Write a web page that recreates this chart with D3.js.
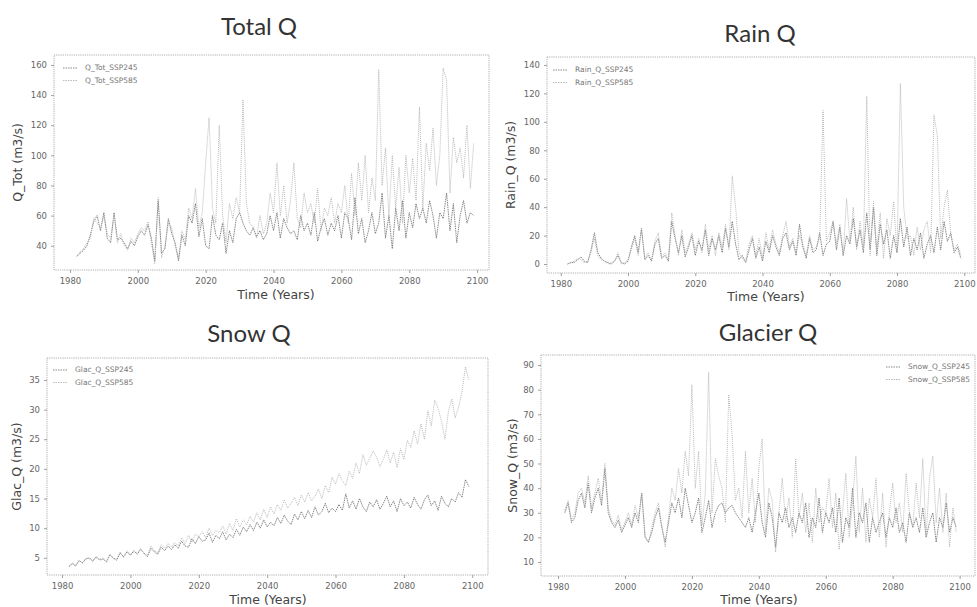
<!DOCTYPE html>
<html><head><meta charset="utf-8">
<script src="https://cdn.jsdelivr.net/npm/d3@7"></script>
<style>
body{margin:0;background:#fff;}
svg{display:block;}
.tick text{font-family:"DejaVu Sans",sans-serif;}
</style></head>
<body><svg id="c" width="977" height="607"></svg>
<script>
const years = [1982,1983,1984,1985,1986,1987,1988,1989,1990,1991,1992,1993,1994,1995,1996,1997,1998,1999,2000,2001,2002,2003,2004,2005,2006,2007,2008,2009,2010,2011,2012,2013,2014,2015,2016,2017,2018,2019,2020,2021,2022,2023,2024,2025,2026,2027,2028,2029,2030,2031,2032,2033,2034,2035,2036,2037,2038,2039,2040,2041,2042,2043,2044,2045,2046,2047,2048,2049,2050,2051,2052,2053,2054,2055,2056,2057,2058,2059,2060,2061,2062,2063,2064,2065,2066,2067,2068,2069,2070,2071,2072,2073,2074,2075,2076,2077,2078,2079,2080,2081,2082,2083,2084,2085,2086,2087,2088,2089,2090,2091,2092,2093,2094,2095,2096,2097,2098,2099];

const totQ245 = [33,35,37,40,47,56,60,50,62,45, 42,62,44,45,42,38,43,40,46,50, 47,54,45,30,70,35,38,58,48,42, 30,47,40,60,55,68,46,58,40,38, 60,47,44,55,35,50,42,58,62,55, 50,47,52,46,50,44,48,60,50,62, 45,58,52,48,50,44,60,50,55,47, 62,43,52,58,47,55,50,60,45,62, 58,44,72,48,58,42,50,62,48,55, 75,45,60,38,65,50,70,45,62,52, 68,58,65,55,70,60,45,62,58,75, 50,68,42,60,70,55,62,60];
const totQ585 = [33,36,38,42,45,58,55,52,60,48, 45,60,42,48,40,37,45,42,48,52, 50,56,42,28,72,32,40,55,52,40, 32,50,44,65,58,78,52,62,95,125, 65,55,120,60,42,68,58,72,62,137, 68,55,52,45,60,48,55,75,62,95, 60,80,55,70,95,58,52,75,62,68, 55,78,50,65,60,72,55,68,62,80, 55,88,60,95,70,100,62,85,70,157, 80,105,58,100,65,92,55,100,75,98, 70,132,65,108,90,118,80,100,158,150, 75,112,95,105,85,120,78,108];

const rainQ245 = [0,1,1,3,5,2,1,10,22,8, 4,2,1,0,2,6,1,0,2,12, 20,8,25,3,6,2,14,18,4,6, 2,30,18,8,20,5,12,20,6,16, 10,24,6,18,10,20,8,25,12,30, 14,3,6,1,10,18,4,12,2,16, 8,20,12,6,18,22,10,16,6,28, 12,4,18,8,10,22,6,14,16,30, 10,26,6,20,14,32,12,24,8,36, 10,40,6,28,14,24,4,20,8,32, 12,26,6,18,10,22,4,14,20,8, 26,10,30,16,22,8,12,4];
const rainQ585 = [0,1,2,4,3,1,2,8,18,6, 3,2,0,1,2,8,0,1,3,10, 18,6,24,4,8,3,16,22,5,8, 3,36,20,6,24,8,14,22,10,18, 8,28,10,20,6,22,12,28,10,62, 40,8,4,2,14,20,6,18,4,22, 10,24,14,8,20,30,12,18,8,20, 14,6,20,10,12,18,108,16,22,30, 14,28,6,46,16,40,10,30,12,118, 6,44,10,36,4,32,20,44,8,127, 40,18,20,6,26,10,24,30,8,105, 90,18,40,52,20,10,14,6];

const glacQ245 = [3.5,4.0,3.6,4.5,4.2,4.8,5.0,4.4,5.2,4.6, 4.8,4.3,5.5,5.0,4.6,5.8,5.2,6.0,5.4,6.2, 5.6,6.4,5.8,5.2,6.6,6.0,5.6,6.8,6.2,7.0, 6.4,7.2,6.6,7.8,7.0,6.8,8.2,7.4,8.6,7.8, 8.0,9.2,7.6,8.8,8.2,9.4,8.0,9.0,8.4,9.8, 8.8,10.2,9.4,10.6,9.6,11.0,10.0,11.4,10.2,11.0, 10.4,11.8,10.8,12.2,11.2,10.6,12.4,11.4,12.8,11.6, 13.0,11.8,13.6,12.2,12.8,14.2,12.6,13.4,12.8,14.0, 13.0,15.8,13.4,14.6,13.2,15.0,13.6,12.8,14.4,13.6, 14.8,13.2,14.2,15.4,13.6,14.6,12.8,15.0,13.8,14.4, 13.4,15.2,14.0,13.2,14.8,15.6,13.8,14.6,13.0,15.4, 14.2,13.6,15.0,14.4,16.0,15.2,18.2,17.0];
const glacQ585 = [3.6,4.2,3.8,4.6,4.0,5.0,4.8,4.6,5.0,4.8, 5.0,4.4,5.6,4.8,4.8,6.0,5.0,6.2,5.6,6.0, 5.8,6.6,5.6,5.4,7.0,6.2,5.8,7.2,6.6,7.4, 6.8,7.6,7.0,8.4,7.4,8.8,7.6,9.0,8.6,9.4, 8.4,10.0,8.8,9.6,9.2,10.4,9.0,10.8,9.6,11.6, 10.2,11.4,10.6,12.0,11.0,12.6,11.4,13.2,11.8,13.6, 12.4,14.0,13.0,14.8,13.4,14.2,15.2,13.8,15.6,14.4, 16.0,14.6,15.4,16.6,15.0,17.2,16.0,18.6,17.4,19.2, 18.0,17.2,19.6,18.4,21.0,19.2,22.4,20.6,21.8,23.0, 22.0,20.4,21.6,23.2,21.0,22.8,20.2,23.4,21.6,24.8, 23.6,26.4,24.2,27.6,25.0,29.8,27.2,31.6,30.2,28.0, 25.0,29.6,31.8,28.6,30.4,33.0,37.2,35.0];

const snowQ245 = [30,34,26,28,35,38,32,42,30,36, 40,33,48,30,26,24,27,22,25,28, 24,30,26,38,20,18,22,28,32,24, 18,26,34,30,36,28,40,33,26,30, 36,22,28,35,24,30,33,34,30,32, 33,30,28,26,24,28,22,30,38,26, 20,34,28,16,30,26,32,24,28,22, 30,26,34,20,28,24,36,22,30,26, 32,22,36,18,28,24,40,20,30,26, 34,18,28,22,26,30,20,28,24,32, 22,26,18,30,24,28,22,32,20,26, 30,18,28,24,34,22,28,24];
const snowQ585 = [31,35,27,30,38,40,34,45,32,38, 44,35,50,32,27,25,29,23,26,30, 25,33,28,38,21,18,24,30,34,25, 16,28,40,35,48,38,55,45,82,40, 55,25,38,87,30,52,45,40,26,78, 62,35,40,28,55,30,44,26,48,60, 22,40,35,14,30,44,26,36,20,52, 28,38,22,34,18,40,26,32,30,44, 24,38,15,30,46,20,34,53,22,40, 18,36,28,44,20,38,16,30,42,26, 34,22,46,30,24,42,28,52,20,44, 53,26,40,22,38,16,32,22];

const xTicks = [1980,2000,2020,2040,2060,2080,2100];
const totTicks = [40,60,80,100,120,140,160];
const rainTicks = [0,20,40,60,80,100,120,140];
const glacTicks = [5,10,15,20,25,30,35];
const snowTicks = [10,20,30,40,50,60,70,80,90];

const panels = [
  {title:"Total Q", tx:259, ty:35, box:[54,55,489,270], xd:[1975.3,2103.5], yd:[23.9,166.6], yt:totTicks,
   ylab:"Q_Tot (m3/s)", ylx:18, xlx:276, xly:299, s:[totQ245,totQ585], names:["Q_Tot_SSP245","Q_Tot_SSP585"], leg:"left", lx:63, ly:68},
  {title:"Rain Q", tx:760, ty:42, box:[547,57,975,273], xd:[1975.9,2103.2], yd:[-6.3,145.6], yt:rainTicks,
   ylab:"Rain_Q (m3/s)", ylx:511, xlx:766, xly:301, s:[rainQ245,rainQ585], names:["Rain_Q_SSP245","Rain_Q_SSP585"], leg:"left", lx:553, ly:70},
  {title:"Snow Q", tx:249, ty:342, box:[47,358,488,575], xd:[1975.6,2104.6], yd:[2.1,38.7], yt:glacTicks,
   ylab:"Glac_Q (m3/s)", ylx:17, xlx:268, xly:604, s:[glacQ245,glacQ585], names:["Glac_Q_SSP245","Glac_Q_SSP585"], leg:"left", lx:53, ly:370},
  {title:"Glacier Q", tx:768, ty:341, box:[541,355,975,576], xd:[1974.9,2104.6], yd:[4.3,94.1], yt:snowTicks,
   ylab:"Snow_Q (m3/s)", ylx:513, xlx:759, xly:604, s:[snowQ245,snowQ585], names:["Snow_Q_SSP245","Snow_Q_SSP585"], leg:"right", lx:970, ly:367}
];

const colors = ["#6a6a6a","#a8a8a8"];
const svg = d3.select("#c");

panels.forEach(p => {
  const [x0,y0,x1,y1] = p.box;
  const x = d3.scaleLinear().domain(p.xd).range([x0,x1]);
  const y = d3.scaleLinear().domain(p.yd).range([y1,y0]);
  const g = svg.append("g");

  g.append("text").attr("x",p.tx).attr("y",p.ty).attr("text-anchor","middle")
    .attr("font-family","Lato, 'Open Sans', sans-serif").attr("font-size",24).attr("fill","#333").text(p.title);

  g.append("rect").attr("x",x0).attr("y",y0).attr("width",x1-x0).attr("height",y1-y0)
    .attr("fill","none").attr("stroke","#9a9a9a").attr("stroke-width",0.8).attr("stroke-dasharray","1.2,1");

  const xa = g.append("g").attr("transform",`translate(0,${y1})`)
    .call(d3.axisBottom(x).tickValues(xTicks).tickFormat(d3.format("d")).tickSize(3).tickPadding(5));
  const ya = g.append("g").attr("transform",`translate(${x0},0)`)
    .call(d3.axisLeft(y).tickValues(p.yt).tickFormat(d3.format("d")).tickSize(3).tickPadding(4));
  [xa,ya].forEach(a => {
    a.select(".domain").remove();
    a.selectAll(".tick line").attr("stroke","#888").attr("stroke-width",0.8);
    a.selectAll(".tick text").attr("font-size",8.5).attr("fill","#666");
  });

  const line = d3.line().x((d,i)=>x(years[i])).y(d=>y(d));
  p.s.forEach((arr,k) => {
    g.append("path").datum(arr).attr("d",line).attr("fill","none")
      .attr("stroke",colors[k]).attr("stroke-width",0.8).attr("stroke-dasharray", k===0 ? "1.5,0.8" : "1,1");
  });

  g.append("text").attr("x",p.xlx).attr("y",p.xly).attr("text-anchor","middle")
    .attr("font-family","'DejaVu Sans', sans-serif").attr("font-size",12.5).attr("fill","#444").text("Time (Years)");
  g.append("text").attr("transform",`translate(${p.ylx},${(y0+y1)/2}) rotate(-90)`).attr("text-anchor","middle")
    .attr("dominant-baseline","middle")
    .attr("font-family","'DejaVu Sans', sans-serif").attr("font-size",12.5).attr("fill","#444").text(p.ylab);

  p.names.forEach((n,k) => {
    const ly = p.ly + k*12.5;
    if (p.leg === "left") {
      g.append("line").attr("x1",p.lx).attr("x2",p.lx+14).attr("y1",ly).attr("y2",ly)
        .attr("stroke",colors[k]).attr("stroke-width",0.8).attr("stroke-dasharray","1.5,1");
      g.append("text").attr("x",p.lx+22).attr("y",ly).attr("dominant-baseline","middle")
        .attr("font-family","'DejaVu Sans', sans-serif").attr("font-size",7.5).attr("fill","#777").text(n);
    } else {
      g.append("line").attr("x1",p.lx-84).attr("x2",p.lx-70).attr("y1",ly).attr("y2",ly)
        .attr("stroke",colors[k]).attr("stroke-width",0.8).attr("stroke-dasharray","1.5,1");
      g.append("text").attr("x",p.lx).attr("y",ly).attr("text-anchor","end").attr("dominant-baseline","middle")
        .attr("font-family","'DejaVu Sans', sans-serif").attr("font-size",7.5).attr("fill","#777").text(n);
    }
  });
});
</script>
</body></html>
